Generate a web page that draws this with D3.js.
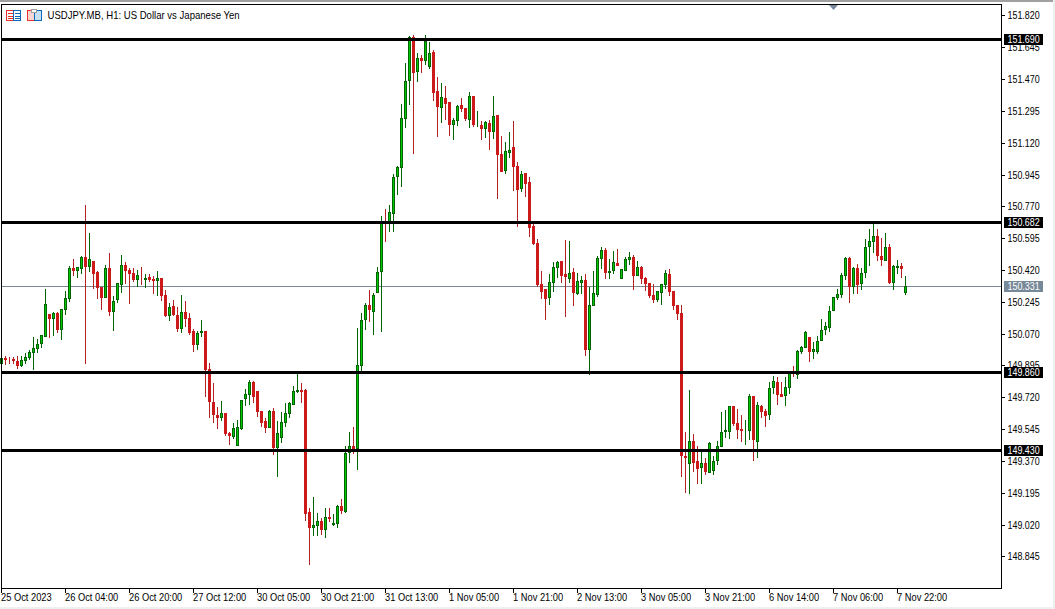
<!DOCTYPE html>
<html>
<head>
<meta charset="utf-8">
<script src="https://cdn.jsdelivr.net/npm/d3@7"></script>
<style>
  html, body { margin: 0; padding: 0; background: #fff; overflow: hidden; }
  text { font-family: "Liberation Sans", sans-serif; font-size: 10px; fill: #000; }
</style>
</head>
<body>
<div id="wrapper"></div>
<script>
// Hourly candles, left to right
const opens = [149.903,149.936,149.930,149.930,149.919,149.892,149.919,149.936,149.963,149.985,150.013,150.051,150.178,150.150,150.183,150.090,150.200,150.260,150.431,150.414,150.425,150.491,150.436,150.469,150.409,150.326,150.266,150.431,150.189,150.255,150.337,150.447,150.420,150.403,150.365,150.403,150.365,150.381,150.370,150.359,150.376,150.283,150.167,150.222,150.172,150.095,150.189,150.156,150.084,150.007,150.073,150.084,149.875,149.694,149.622,
149.606,149.633,149.523,149.502,149.452,149.545,149.710,149.732,149.804,149.754,149.644,149.589,149.551,149.644,149.441,149.496,149.578,149.628,149.677,149.749,149.760,149.760,149.089,149.001,149.012,149.040,148.990,149.062,149.018,149.023,149.122,149.089,149.414,149.452,149.436,149.892,150.145,150.227,150.189,150.293,150.409,150.689,150.673,150.728,
150.932,150.981,151.251,151.459,151.701,151.509,151.586,151.570,151.537,151.619,151.404,151.311,151.366,151.344,151.217,151.240,151.327,151.311,151.245,151.377,151.217,151.217,151.196,151.229,151.179,151.272,151.058,150.965,151.064,151.097,150.992,150.866,150.953,150.904,150.662,150.569,
150.343,150.315,150.266,150.348,150.431,150.469,150.398,150.370,150.409,150.288,150.348,150.365,149.980,150.222,150.283,150.480,150.530,150.403,150.414,150.458,150.370,150.414,150.475,150.491,150.387,150.436,150.376,150.348,150.283,150.255,150.293,150.337,150.398,150.304,150.227,
150.183,149.397,149.353,149.480,149.370,149.331,149.359,149.303,149.314,149.370,149.447,149.529,149.529,149.672,149.578,149.545,149.540,149.534,149.727,149.474,149.672,149.644,149.622,149.771,149.804,149.738,149.727,149.771,149.853,149.843,
149.969,149.991,150.051,149.969,149.969,150.029,150.090,150.101,150.194,150.266,150.283,150.387,150.486,150.326,150.431,150.343,150.403,150.547,150.574,150.607,150.497,150.469,150.547,150.348,150.431,150.442,150.293];

const highs = [149.936,149.947,149.941,149.941,149.947,149.947,149.963,149.980,150.051,150.040,150.062,150.315,150.178,150.189,150.189,150.205,150.304,150.442,150.480,150.436,150.497,150.777,150.623,150.469,150.414,150.326,150.447,150.513,150.277,150.348,150.502,150.464,150.431,150.431,150.420,150.436,150.398,150.398,150.387,150.414,150.376,150.310,150.238,150.255,150.216,150.283,150.249,150.183,150.095,150.084,150.145,150.084,149.908,149.798,149.666,
149.700,149.633,149.529,149.578,149.595,149.705,149.765,149.815,149.809,149.754,149.644,149.606,149.650,149.661,149.589,149.639,149.688,149.694,149.782,149.853,149.798,149.765,149.111,149.172,149.083,149.056,149.111,149.111,149.078,149.127,149.160,149.452,149.529,149.556,150.101,150.183,150.238,150.310,150.293,150.436,150.717,150.755,150.777,150.948,
150.992,151.333,151.558,151.707,151.712,151.613,151.602,151.712,151.674,151.630,151.482,151.449,151.432,151.344,151.256,151.327,151.366,151.311,151.399,151.377,151.295,151.240,151.240,151.245,151.377,151.272,151.157,151.124,151.179,151.240,151.014,150.965,150.953,150.932,150.673,150.591,
150.414,150.315,150.398,150.464,150.469,150.469,150.585,150.580,150.431,150.403,150.387,150.398,150.326,150.414,150.497,150.547,150.541,150.480,150.524,150.535,150.425,150.491,150.519,150.502,150.469,150.442,150.381,150.348,150.343,150.304,150.343,150.420,150.425,150.304,150.227,
150.227,149.529,149.760,149.518,149.452,149.419,149.386,149.474,149.397,149.480,149.639,149.650,149.672,149.672,149.655,149.622,149.595,149.738,149.727,149.694,149.677,149.655,149.804,149.837,149.832,149.804,149.832,149.853,149.892,149.980,
150.002,150.084,150.051,150.024,150.057,150.150,150.134,150.222,150.272,150.315,150.403,150.491,150.491,150.436,150.453,150.431,150.591,150.645,150.673,150.645,150.596,150.623,150.563,150.447,150.475,150.458,150.387];

const lows = [149.903,149.898,149.903,149.903,149.875,149.886,149.903,149.925,149.870,149.963,149.991,150.051,150.046,150.057,150.073,150.035,150.172,150.244,150.387,150.376,150.398,149.903,150.409,150.315,150.260,150.200,150.266,150.167,150.084,150.238,150.293,150.343,150.233,150.354,150.326,150.337,150.321,150.354,150.288,150.277,150.249,150.161,150.139,150.167,150.079,150.073,150.106,150.062,149.969,149.980,150.051,149.722,149.606,149.578,149.545,
149.589,149.507,149.458,149.491,149.452,149.540,149.672,149.677,149.688,149.611,149.556,149.523,149.551,149.403,149.281,149.469,149.556,149.606,149.677,149.743,149.688,149.040,148.798,148.957,148.957,148.963,148.946,149.034,149.012,149.001,149.078,149.083,149.359,149.408,149.320,149.859,150.090,150.134,150.062,150.293,150.079,150.574,150.629,150.629,
150.832,150.877,151.201,151.327,151.058,151.454,151.504,151.548,151.526,151.349,151.152,151.229,151.245,151.157,151.135,151.212,151.289,151.240,151.201,151.207,151.207,151.135,151.146,151.080,151.141,150.810,150.959,150.948,151.036,150.854,150.657,150.849,150.822,150.602,150.558,150.326,
150.260,150.145,150.227,150.299,150.376,150.348,150.161,150.348,150.222,150.283,150.288,149.947,149.843,150.222,150.272,150.425,150.370,150.370,150.398,150.442,150.370,150.414,150.447,150.310,150.387,150.343,150.304,150.266,150.238,150.244,150.227,150.315,150.277,150.200,150.145,
149.281,149.194,149.188,149.309,149.243,149.243,149.292,149.303,149.292,149.347,149.447,149.496,149.491,149.562,149.491,149.474,149.458,149.485,149.370,149.386,149.606,149.556,149.595,149.738,149.677,149.722,149.672,149.738,149.832,149.821,
149.958,149.991,149.914,149.930,149.958,150.029,150.062,150.079,150.194,150.255,150.266,150.365,150.238,150.288,150.288,150.310,150.376,150.442,150.513,150.469,150.442,150.469,150.343,150.310,150.398,150.376,150.283];

const closes = [149.936,149.925,149.925,149.919,149.892,149.925,149.941,149.969,149.991,150.013,150.062,150.233,150.150,150.183,150.090,150.205,150.266,150.431,150.414,150.436,150.491,150.436,150.480,150.398,150.321,150.266,150.431,150.189,150.249,150.348,150.447,150.414,150.398,150.365,150.392,150.398,150.376,150.365,150.359,150.376,150.277,150.167,150.216,150.172,150.095,150.189,150.150,150.073,150.007,150.073,150.084,149.870,149.694,149.622,149.606,
149.633,149.518,149.507,149.551,149.556,149.705,149.738,149.804,149.722,149.639,149.578,149.551,149.644,149.441,149.523,149.584,149.633,149.688,149.754,149.760,149.749,149.078,149.001,149.018,149.040,148.990,149.062,149.051,149.029,149.122,149.095,149.414,149.452,149.419,149.898,150.145,150.227,150.200,150.283,150.409,150.678,150.678,150.739,150.932,
150.987,151.256,151.459,151.701,151.504,151.586,151.570,151.680,151.613,151.393,151.317,151.371,151.333,151.217,151.245,151.322,151.305,151.251,151.377,151.217,151.223,151.196,151.234,151.179,151.267,151.053,150.959,151.075,151.080,150.987,150.860,150.948,150.893,150.651,150.563,150.337,
150.299,150.260,150.354,150.436,150.464,150.387,150.381,150.403,150.293,150.359,150.365,149.980,150.227,150.293,150.486,150.530,150.403,150.414,150.464,150.442,150.425,150.480,150.491,150.387,150.436,150.370,150.343,150.277,150.255,150.304,150.343,150.403,150.299,150.222,150.178,
149.397,149.386,149.480,149.359,149.326,149.359,149.309,149.469,149.370,149.452,149.529,149.540,149.672,149.573,149.540,149.534,149.545,149.727,149.485,149.677,149.639,149.617,149.771,149.809,149.732,149.722,149.776,149.853,149.848,149.974,
149.996,150.079,149.969,149.985,150.029,150.090,150.112,150.194,150.272,150.288,150.392,150.486,150.326,150.431,150.337,150.403,150.547,150.580,150.607,150.497,150.475,150.547,150.348,150.442,150.442,150.425,150.331];

const priceTicks = [151.820,151.645,151.470,151.295,151.120,150.945,150.770,150.595,150.420,150.245,150.070,149.895,149.720,149.545,149.370,149.195,149.020,148.845];
const timeLabels = ["25 Oct 2023","26 Oct 04:00","26 Oct 20:00","27 Oct 12:00","30 Oct 05:00","30 Oct 21:00","31 Oct 13:00","1 Nov 05:00","1 Nov 21:00","2 Nov 13:00","3 Nov 05:00","3 Nov 21:00","6 Nov 14:00","7 Nov 06:00","7 Nov 22:00"];
const levels = [151.690,150.682,149.860,149.430];
const lastPrice = 150.331;
const title = "USDJPY.MB, H1:  US Dollar vs Japanese Yen";

const barsPerLabel = 16;
const colors = {
  upWick: "#006400", upBody: "#00c800", downWick: "#b22222", downBody: "#cc1a1a", last: "#778899"
};

const dimensions = { width: 1055, height: 609, left: 1.5, right: 1001.5, top: 4.5, bottom: 588.5 };

const svg = d3.select("#wrapper").append("svg")
  .attr("width", dimensions.width)
  .attr("height", dimensions.height)
  .style("display", "block");

// Scales
const x = d3.scaleLinear().domain([0, 1]).range([1.5, 5.5]);
const y = d3.scaleLinear().domain([151.820, 148.845]).range([15.45, 556.36]);

// Liberation is wider than the chart's font, so squeeze labels to its widths
const squeeze = (selection, ratio) => selection.each(function () {
  d3.select(this)
    .attr("textLength", this.getComputedTextLength() * ratio)
    .attr("lengthAdjust", "spacingAndGlyphs");
});

// Window chrome
svg.append("rect").attr("width", dimensions.width).attr("height", 2).attr("fill", "#a0a0a0");
svg.append("rect").attr("x", 1053).attr("width", 2).attr("height", dimensions.height).attr("fill", "#f0f0f0");
svg.append("rect").attr("y", 607).attr("width", dimensions.width).attr("height", 2).attr("fill", "#f0f0f0");

// Last price line sits behind the candles
svg.append("line")
  .attr("x1", dimensions.left).attr("x2", dimensions.right)
  .attr("y1", Math.round(y(lastPrice)) + 0.5).attr("y2", Math.round(y(lastPrice)) + 0.5)
  .attr("stroke", colors.last)
  .attr("shape-rendering", "crispEdges");

// Candles
const candles = svg.append("g").attr("shape-rendering", "crispEdges")
  .selectAll("g")
  .data(d3.range(opens.length))
  .join("g");

candles.append("line")
  .attr("x1", x).attr("x2", x)
  .attr("y1", i => Math.round(y(highs[i])))
  .attr("y2", i => Math.round(y(lows[i])))
  .attr("stroke", i => closes[i] >= opens[i] ? colors.upWick : colors.downWick);

candles.append("rect")
  .attr("x", i => x(i) - 1)
  .attr("width", 2)
  .attr("y", i => Math.round(y(Math.max(opens[i], closes[i]))) + 0.5)
  .attr("height", i => Math.max(0, Math.round(y(Math.min(opens[i], closes[i]))) - Math.round(y(Math.max(opens[i], closes[i]))) - 1))
  .attr("fill", i => closes[i] >= opens[i] ? colors.upBody : colors.downBody)
  .attr("stroke", i => closes[i] >= opens[i] ? colors.upWick : colors.downBody);

// Frame
svg.append("rect")
  .attr("x", dimensions.left).attr("y", dimensions.top)
  .attr("width", dimensions.right - dimensions.left)
  .attr("height", dimensions.bottom - dimensions.top)
  .attr("fill", "none").attr("stroke", "#000")
  .attr("shape-rendering", "crispEdges");

// Horizontal levels
svg.append("g").selectAll("line")
  .data(levels)
  .join("line")
  .attr("x1", dimensions.left).attr("x2", dimensions.right)
  .attr("y1", d => Math.round(y(d)) + 0.5).attr("y2", d => Math.round(y(d)) + 0.5)
  .attr("stroke", "#000").attr("stroke-width", 3)
  .attr("shape-rendering", "crispEdges");

// Price axis
const priceAxis = svg.append("g")
  .attr("transform", "translate(" + dimensions.right + ",0)")
  .call(d3.axisRight(y).tickValues(priceTicks).tickFormat(d3.format(".3f")).tickSize(3).tickPadding(3));
priceAxis.select(".domain").remove();
priceAxis.selectAll("line").attr("shape-rendering", "crispEdges");
priceAxis.selectAll("text").attr("fill", "#000").attr("dy", "0.35em").call(squeeze, 0.89);

// Time axis
const timeAxis = svg.append("g")
  .attr("transform", "translate(0," + dimensions.bottom + ")")
  .call(d3.axisBottom(x)
    .tickValues(timeLabels.map((d, i) => i * barsPerLabel))
    .tickFormat((d, i) => timeLabels[i])
    .tickSize(4).tickPadding(1.5).offset(0));
timeAxis.select(".domain").remove();
timeAxis.selectAll("line").attr("shape-rendering", "crispEdges");
timeAxis.selectAll("text").attr("text-anchor", "start").attr("x", -0.5).attr("fill", "#000").call(squeeze, 0.93);

// Price tags on the axis
const tags = svg.append("g").selectAll("g")
  .data(levels.map(d => ({ value: d, fill: "#000" })).concat([{ value: lastPrice, fill: colors.last }]))
  .join("g")
  .attr("transform", d => "translate(1004," + Math.round(y(d.value)) + ")");
tags.append("rect")
  .attr("y", -5).attr("width", 39).attr("height", 11)
  .attr("fill", d => d.fill);
tags.append("text")
  .attr("x", 3.5).attr("y", 4)
  .style("fill", "#fff")
  .text(d => d3.format(".3f")(d.value))
  .call(squeeze, 0.89);

// Title and icons
svg.append("text").attr("x", 47.5).attr("y", 19).style("font-size", "10.5px").text(title).call(squeeze, 0.91);
const icons = svg.append("g").attr("fill", "none").attr("shape-rendering", "crispEdges");
[[6.5, 10.5, 7, "#e8312a"], [13.5, 10.5, 7, "#0a6ab8"], [27.5, 10.5, 7, "#e8312a"], [34.5, 10.5, 7, "#0a6ab8"]].forEach(d => {
  icons.append("rect").attr("x", d[0]).attr("y", d[1]).attr("width", d[2]).attr("height", 10)
    .attr("stroke", d[3]).attr("fill", d[0] > 20 ? (d[3] === "#e8312a" ? "#fbd5d0" : "#c8e0f4") : "#fff");
});
[13, 16, 18.5].forEach(d => {
  icons.append("line").attr("x1", 8).attr("x2", 13).attr("y1", d).attr("y2", d).attr("stroke", "#e8312a");
  icons.append("line").attr("x1", 15).attr("x2", 20).attr("y1", d).attr("y2", d).attr("stroke", "#0a6ab8");
});
icons.append("rect").attr("x", 31.5).attr("y", 9.5).attr("width", 5).attr("height", 3).attr("fill", "#fff").attr("stroke", "#a0a0a0");

// Marker at the top edge
svg.append("path")
  .attr("d", d3.line()([[829, 5], [838, 5], [833.5, 10]]))
  .attr("fill", colors.last);
</script>
</body>
</html>
